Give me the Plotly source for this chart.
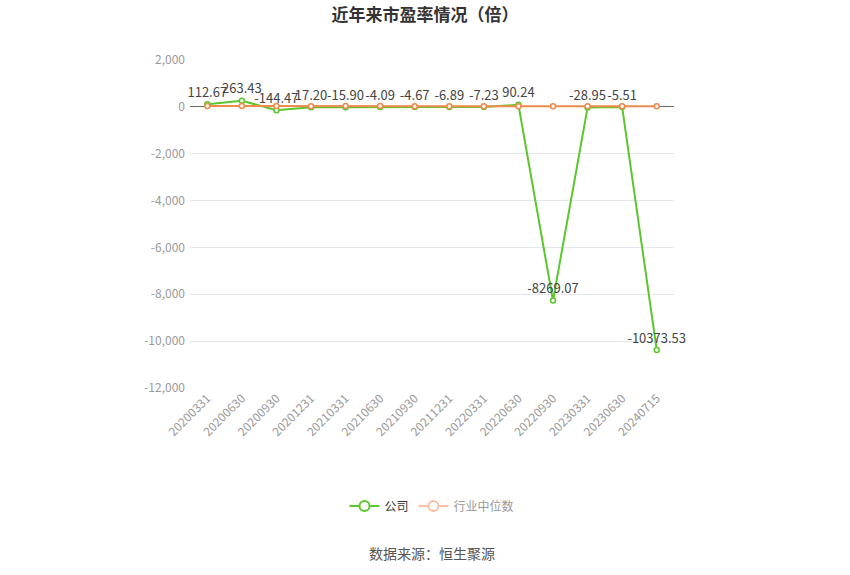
import plotly.graph_objects as go

# 报告期 & 市盈率数据
dates = ['20200331', '20200630', '20200930', '20201231', '20210331', '20210630', '20210930',
         '20211231', '20220331', '20220630', '20220930', '20230331', '20230630', '20240715']
company_pe = [112.67, 263.43, -144.47, -17.20, -15.90, -4.09, -4.67,
              -6.89, -7.23, 90.24, -8269.07, -28.95, -5.51, -10373.53]
industry_pe = [35.2, 38.5, 36.1, 30.4, 32.8, 34.6, 31.2,
               29.7, 26.3, 24.1, 21.5, 23.8, 24.6, 21.9]
label_text = ['112.67', '263.43', '-144.47', '17.20', '-15.90', '-4.09', '-4.67',
              '-6.89', '-7.23', '90.24', '-8269.07', '-28.95', '-5.51', '-10373.53']
y_ticks = [2000, 0, -2000, -4000, -6000, -8000, -10000, -12000]
y_tick_text = ['2,000', '0', '-2,000', '-4,000', '-6,000', '-8,000', '-10,000', '-12,000']

green = '#5cc72c'
orange = '#f08a4b'

fig = go.Figure()

fig.add_trace(go.Scatter(
    x=dates, y=company_pe, mode='lines+markers+text', name='公司',
    line=dict(color=green, width=2),
    marker=dict(size=5, color='white', line=dict(color=green, width=1.5)),
    text=label_text, textposition='top center',
    textfont=dict(color='#444444', size=13),
    cliponaxis=False, showlegend=False,
))
fig.add_trace(go.Scatter(
    x=dates, y=industry_pe, mode='lines+markers', name='行业中位数',
    line=dict(color=orange, width=2),
    marker=dict(size=5, color='white', line=dict(color=orange, width=1.5)),
    cliponaxis=False, showlegend=False,
))

# legend entries (second one shown faded like the original)
fig.add_trace(go.Scatter(
    x=[dates[0]], y=[None], mode='lines+markers', name='<span style="color:#333">公司</span>',
    line=dict(color=green, width=2),
    marker=dict(size=10, color='white', line=dict(color=green, width=2)),
))
fig.add_trace(go.Scatter(
    x=[dates[0]], y=[None], mode='lines+markers', name='<span style="color:#999">行业中位数</span>',
    line=dict(color='#fbbfa6', width=2),
    marker=dict(size=10, color='white', line=dict(color='#fbbfa6', width=2)),
))

fig.update_layout(
    width=850, height=575,
    plot_bgcolor='white', paper_bgcolor='white',
    font=dict(family='Noto Sans CJK SC, Noto Sans, sans-serif', size=12, color='#666'),
    title=dict(text='<b>近年来市盈率情况（倍）</b>', x=0.5, xanchor='center',
               yref='container', y=1 - 15 / 575, yanchor='middle',
               font=dict(size=17, color='#333')),
    margin=dict(l=190, r=176, t=60, b=187, autoexpand=False),
    legend=dict(orientation='h', x=0.5, xanchor='center', y=-0.36, yanchor='middle',
                font=dict(size=12), itemwidth=30),
    annotations=[dict(text='数据来源：恒生聚源', x=0.5, xref='paper', y=-0.503, yref='paper',
                      yanchor='middle', showarrow=False, font=dict(size=14, color='#555'))],
)

fig.update_xaxes(
    type='category', range=[-0.5, len(dates) - 0.5], tickangle=-45,
    tickfont=dict(color='#999', size=12),
    showgrid=False, showline=False, ticks='', zeroline=False,
)
fig.update_yaxes(
    range=[-12000, 2000], tickvals=y_ticks, ticktext=y_tick_text,
    tickfont=dict(color='#999', size=12),
    gridcolor='#e3e7f0', zeroline=True, zerolinecolor='#666', zerolinewidth=1,
    showline=False, ticks='', ticklabelstandoff=4,
)

fig.write_html('out.html', config={'displayModeBar': False},
               post_script="document.body.style.margin='0';")
